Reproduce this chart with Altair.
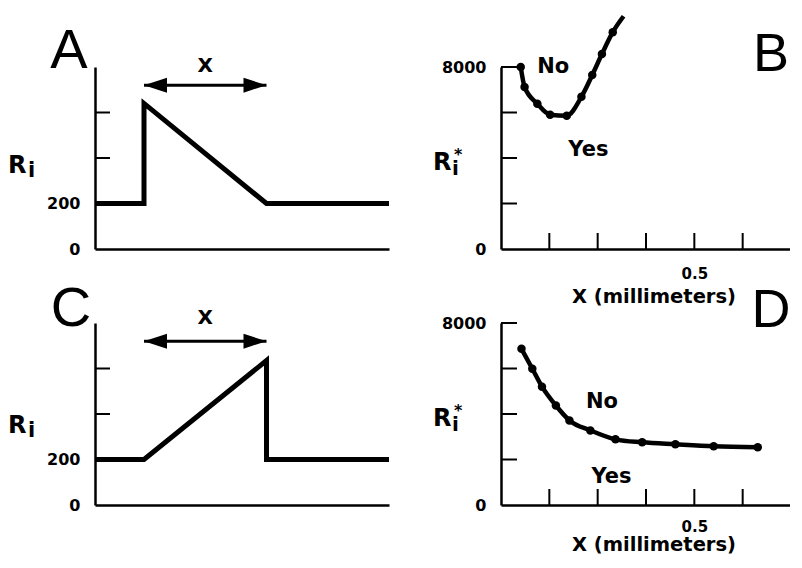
import altair as alt
import pandas as pd

# ---------------- data ----------------
# Panel A: schematic R_i profile (step up, then linear decay over X)
a_x = [0, 1, 1, 3.5, 6]
a_y = [200, 200, 640, 200, 200]
# Panel C: schematic R_i profile (linear rise over X, then step down)
c_x = [0, 1, 3.5, 3.5, 6]
c_y = [200, 200, 635, 200, 200]
schem_ticks = [200, 400, 600]
schem_labels = [0, 200]
arrow_x = [1, 3.5]
arrow_level = 720

# Panel B: threshold R_i* vs X
b_x = [0.051, 0.061, 0.094, 0.127, 0.170, 0.208, 0.236, 0.261, 0.289]
b_y = [8000, 7126, 6383, 5902, 5858, 6689, 7650, 8568, 9530]
b_end_x = 0.317
b_end_y = 10230
# Panel D: threshold R_i* vs X
d_x = [0.053, 0.081, 0.106, 0.142, 0.177, 0.231, 0.296, 0.365, 0.451, 0.550, 0.664]
d_y = [6863, 5989, 5202, 4372, 3716, 3279, 2885, 2754, 2667, 2579, 2536]

x_ticks = [0.125, 0.25, 0.375, 0.5, 0.625, 0.75]
x_labels = [0.5]
y_ticks = [2000, 4000, 6000, 8000]
y_labels = [0, 8000]

BOLD = "DejaVu Sans"
LETTER = "Liberation Sans"
W_L, W_R, H = 294, 290, 182


def axis(values, pad, fmt="d", size=16, show=True):
    kw = dict(values=values, ticks=False, tickSize=0, grid=False, domain=True,
              domainColor="black", domainWidth=2.5, title=None)
    if show:
        kw.update(labelFont=BOLD, labelFontWeight="bold", labelFontSize=size,
                  labelColor="black", labelPadding=pad, labelFlush=False,
                  labelOverlap=False, format=fmt)
    else:
        kw.update(labels=False)
    return alt.Axis(**kw)


def text_at(t, x, y, size, font=BOLD, weight="bold", align="left", baseline="alphabetic"):
    return alt.Chart(pd.DataFrame({"t": [t]})).mark_text(
        font=font, fontWeight=weight, fontSize=size, align=align,
        baseline=baseline, color="black"
    ).encode(text="t:N", x=alt.value(x), y=alt.value(y))


def rlabel(dx, dy, star):
    if star:
        return [text_at("R", dx, dy, 24), text_at("i", dx + 19, dy + 5, 20),
                text_at("*", dx + 21, dy - 10, 16)]
    return [text_at("R", dx, dy, 24), text_at("i", dx + 20, dy + 4, 21)]


def schematic(xs, ys, letter, letter_xy, r_xy, xlab_y):
    X = alt.X("x:Q", scale=alt.Scale(domain=[0, 6], nice=False, zero=False),
              axis=axis([], 0, show=False))
    Y = alt.Y("y:Q", scale=alt.Scale(domain=[0, 800], nice=False),
              axis=axis(schem_labels, 15))
    df = pd.DataFrame({"x": xs, "y": ys, "o": list(range(len(xs)))})
    line = alt.Chart(df).mark_line(color="black", strokeWidth=5, strokeJoin="miter",
                                   strokeCap="butt").encode(x=X, y=Y, order="o:O")
    ticks = alt.Chart(pd.DataFrame({"y": schem_ticks})).mark_rule(
        color="black", strokeWidth=2).encode(y=Y, x=alt.value(0), x2=alt.value(15))
    shaft = alt.Chart(pd.DataFrame({"x": [arrow_x[0]], "x2": [arrow_x[1]], "y": [arrow_level]})
                      ).mark_rule(color="black", strokeWidth=3).encode(x=X, x2="x2:Q", y=Y)
    head_l = alt.Chart(pd.DataFrame({"x": [arrow_x[0]], "y": [arrow_level]})).mark_point(
        shape="M0,0L2,-0.65L2,0.65Z", filled=True, size=529, color="black", opacity=1
    ).encode(x=X, y=Y)
    head_r = alt.Chart(pd.DataFrame({"x": [arrow_x[1]], "y": [arrow_level]})).mark_point(
        shape="M0,0L-2,-0.65L-2,0.65Z", filled=True, size=529, color="black", opacity=1
    ).encode(x=X, y=Y)
    xlab = alt.Chart(pd.DataFrame({"x": [sum(arrow_x) / 2], "y": [xlab_y], "t": ["X"]})).mark_text(
        font=BOLD, fontWeight="bold", fontSize=20, baseline="middle", color="black"
    ).encode(x=X, y=Y, text="t:N")
    let = text_at(letter, letter_xy[0], letter_xy[1], 56, font=LETTER, weight="normal",
                  align="center")
    return alt.layer(line, ticks, shaft, head_l, head_r, xlab, let,
                     *rlabel(r_xy[0], r_xy[1], False)).properties(width=W_L, height=H)


def threshold(xs, ys, line_x, line_y, letter, letter_xy, r_xy, no_xy, yes_xy, title_xy, lpad):
    X = alt.X("x:Q", scale=alt.Scale(domain=[0, 0.75], nice=False, zero=False),
              axis=axis(x_labels, lpad, fmt=".1f", size=15))
    Y = alt.Y("y:Q", scale=alt.Scale(domain=[0, 8000], nice=False),
              axis=axis(y_labels, 15))
    ldf = pd.DataFrame({"x": line_x, "y": line_y})
    pdf = pd.DataFrame({"x": xs, "y": ys})
    line = alt.Chart(ldf).mark_line(color="black", strokeWidth=4.5,
                                    interpolate="monotone").encode(x=X, y=Y)
    pts = alt.Chart(pdf).mark_circle(color="black", size=72, opacity=1).encode(x=X, y=Y)
    yt = alt.Chart(pd.DataFrame({"y": y_ticks})).mark_rule(
        color="black", strokeWidth=2).encode(y=Y, x=alt.value(0), x2=alt.value(16))
    xt = alt.Chart(pd.DataFrame({"x": x_ticks})).mark_rule(
        color="black", strokeWidth=2).encode(x=X, y=alt.value(H), y2=alt.value(H - 16))
    labs = alt.Chart(pd.DataFrame({"x": [no_xy[0], yes_xy[0]], "y": [no_xy[1], yes_xy[1]],
                                   "t": ["No", "Yes"]})).mark_text(
        font=BOLD, fontWeight="bold", fontSize=21, baseline="middle", color="black"
    ).encode(x=X, y=Y, text="t:N")
    title = text_at("X (millimeters)", title_xy[0], title_xy[1], 19.5, align="center")
    let = text_at(letter, letter_xy[0], letter_xy[1], 54, font=LETTER, weight="normal",
                  align="center")
    return alt.layer(line, pts, yt, xt, labs, title, let,
                     *rlabel(r_xy[0], r_xy[1], True)).properties(width=W_R, height=H)


panel_a = schematic(a_x, a_y, "A", (-26, 1), (-87, 106), 805)
panel_c = schematic(c_x, c_y, "C", (-24, 3), (-87, 110), 823)
panel_b = threshold(b_x, b_y, b_x + [b_end_x], b_y + [b_end_y], "B", (270, 4), (-68, 103),
                    (0.135, 8020), (0.226, 4370), (153, 236), 17)
panel_d = threshold(d_x, d_y, d_x, d_y, "D", (270, 4), (-68, 103),
                    (0.261, 4525), (0.286, 1246), (153, 228), 14)

chart = alt.concat(panel_a, panel_b, panel_c, panel_d, columns=2,
                   spacing=alt.RowColnumber(row=74, column=112), bounds="flush"
                   ).properties(padding={"left": 0, "top": -1, "right": -2, "bottom": 0},
                                background="white"
                   ).configure_view(stroke=None)

chart.save("out.html", embed_options={"renderer": "svg", "actions": False})
